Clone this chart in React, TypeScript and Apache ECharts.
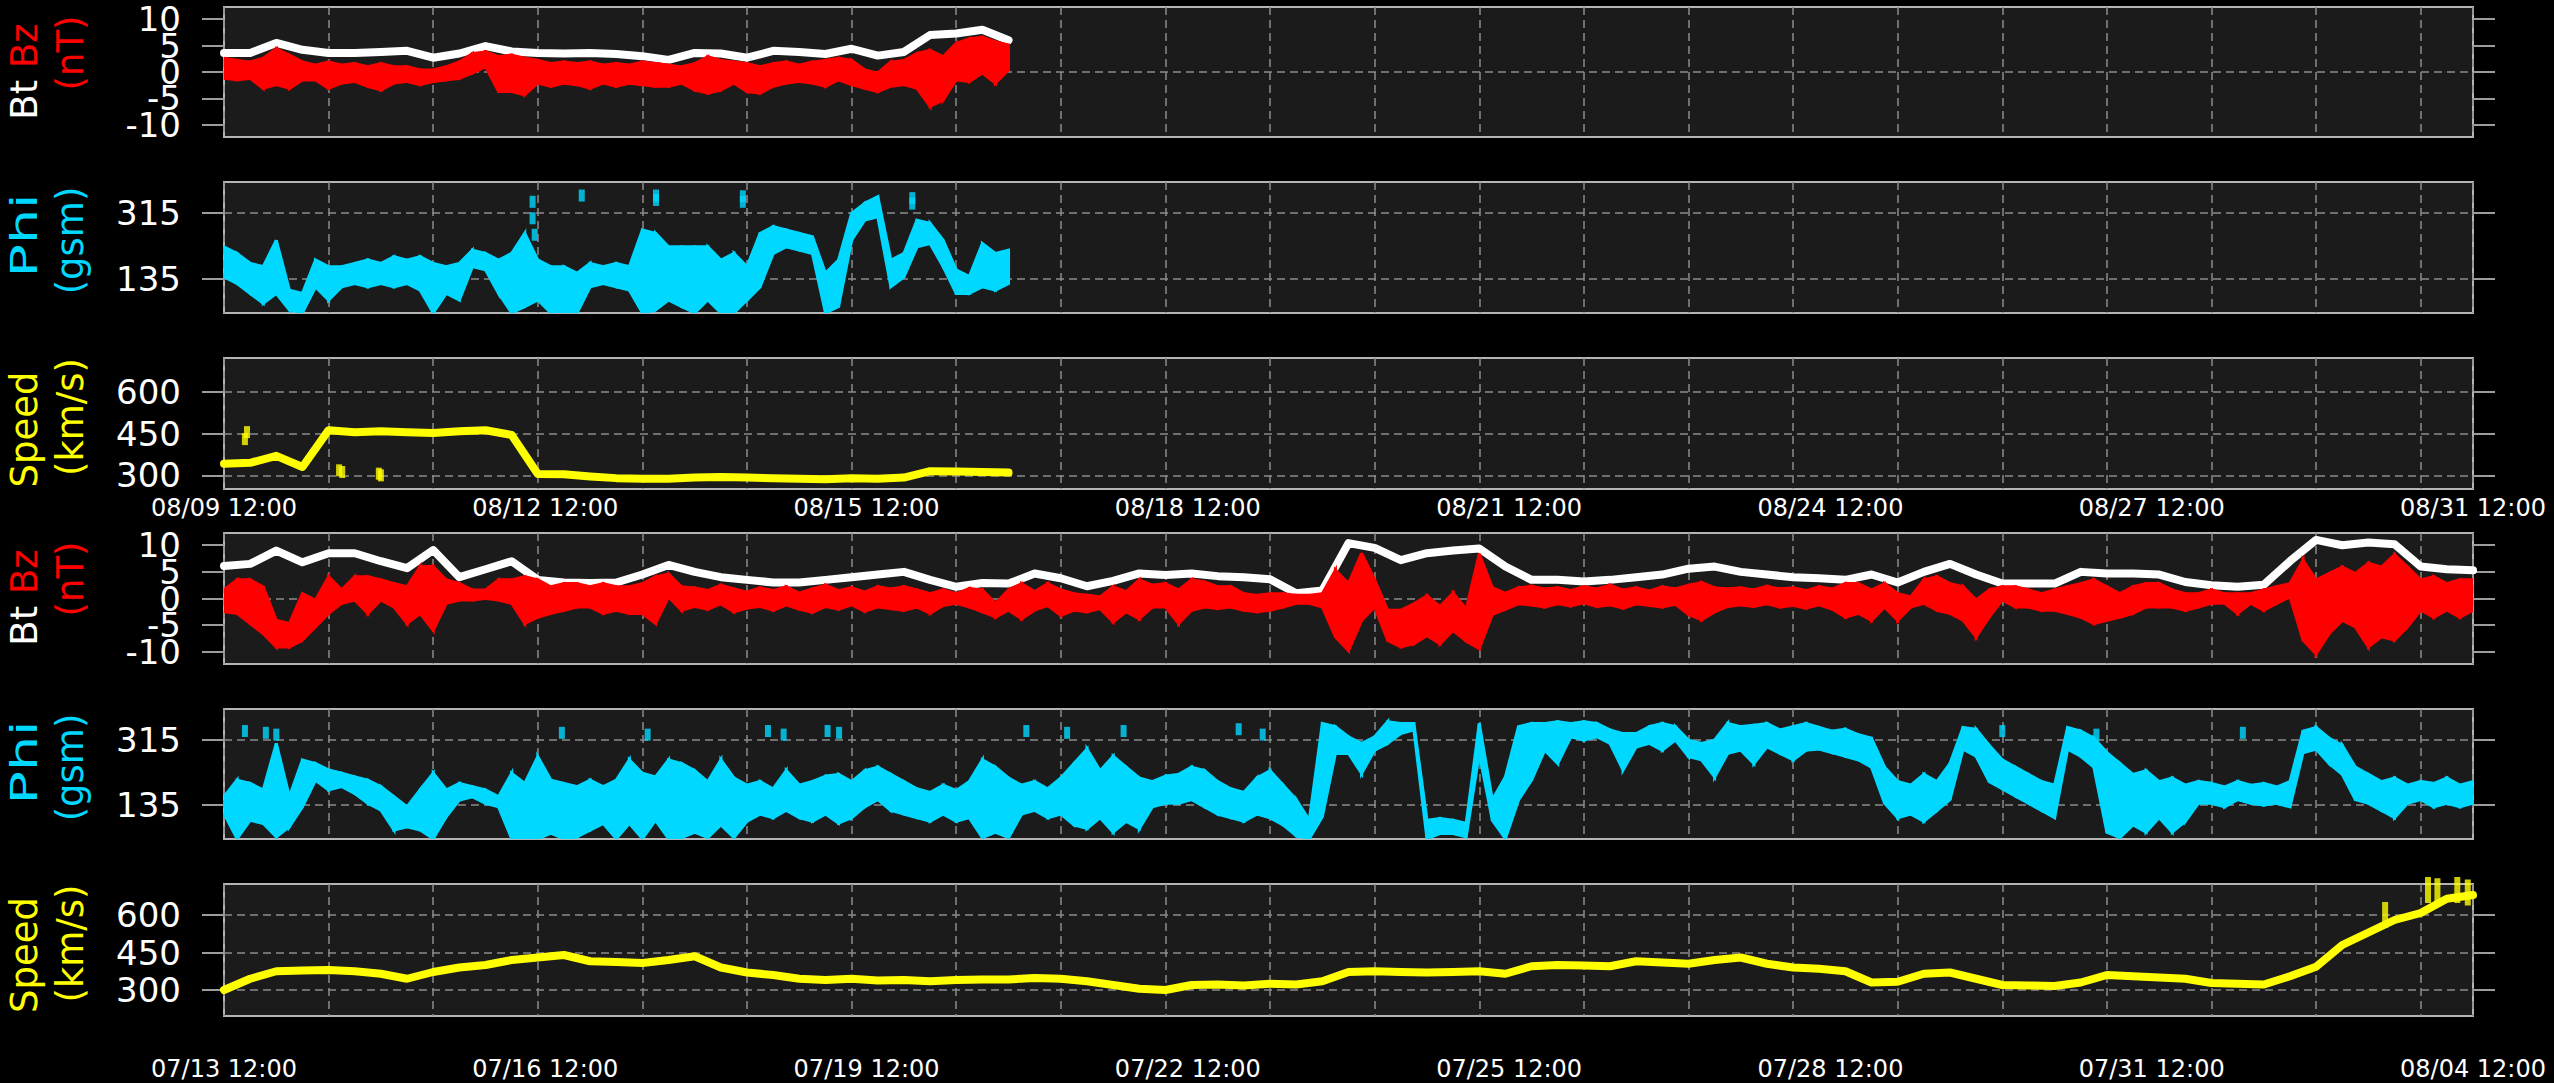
import React, { useEffect, useRef } from "react";
import * as echarts from "echarts";

// ---------------- DATA ----------------
const STEP = 0.25; // days between Bt / speed samples
const FINE = 0.125; // days between Bz / Phi samples
const X_MAX = 21.5; // days shown on each time axis

const topTickLabels = ["08/09 12:00", "08/12 12:00", "08/15 12:00", "08/18 12:00", "08/21 12:00", "08/24 12:00", "08/27 12:00", "08/31 12:00"];
const bottomTickLabels = ["07/13 12:00", "07/16 12:00", "07/19 12:00", "07/22 12:00", "07/25 12:00", "07/28 12:00", "07/31 12:00", "08/04 12:00"];

const magTicks = [-10, -5, 0, 5, 10];
const magGridLines = [0];
const phiTicks = [135, 315];
const speedTicks = [300, 450, 600];

// top group (starts 08/09 12:00)
const btTop = [3.6, 3.6, 5.5, 4.2, 3.6, 3.6, 3.8, 4.0, 2.7, 3.5, 4.9, 3.9, 3.6, 3.5, 3.6, 3.4, 3.0, 2.3, 3.6, 3.5, 2.7, 4.0, 3.8, 3.4, 4.4, 3.1, 3.8, 7.0, 7.3, 8.0, 6.0];
const bzHiTop = [2.6, 2.2, 1.9, 2.6, 4.4, 3.2, 1.9, 1.3, 1.9, 1.3, 1.6, 1.0, 1.6, 1.0, 1.0, 0.4, 0.4, 1.0, 1.9, 3.5, 3.8, 2.9, 3.2, 2.6, 2.2, 1.6, 1.9, 1.6, 1.9, 1.3, 1.6, 1.3, 1.9, 1.6, 1.3, 1.0, 1.6,
  2.9, 2.2, 1.9, 1.6, 1.0, 1.6, 1.9, 1.3, 1.9, 2.2, 2.6, 2.2, 0.4, -0.2, 1.9, 2.2, 3.5, 4.1, 2.9, 5.4, 6.3, 6.6, 5.7, 5.1];
const bzLoTop = [-1.2, -1.5, -1.2, -3.1, -2.4, -3.1, -1.5, -1.5, -3.1, -2.1, -1.8, -2.7, -3.4, -2.1, -1.8, -2.4, -1.8, -1.5, -1.2, -0.2, 1.0, -3.7, -3.7, -4.3, -2.1, -2.7, -2.1, -2.4, -3.1, -2.1, -2.7, -2.1, -2.4, -2.7, -2.7, -2.1, -3.4,
  -4.0, -3.4, -2.1, -3.7, -4.0, -2.7, -2.1, -1.8, -2.1, -2.7, -1.5, -2.4, -3.1, -3.7, -2.7, -2.4, -3.1, -6.5, -5.3, -1.5, -1.8, -0.2, -2.1, 0.4];
const phiHiTop = [222, 204, 177, 168, 240, 104, 95, 186, 168, 168, 177, 186, 177, 195, 186, 195, 177, 168, 177, 213, 204, 186, 204, 259, 186, 168, 168, 150, 177, 168, 177, 168, 268, 259, 222, 222, 222,
  222, 186, 204, 168, 259, 277, 268, 259, 250, 150, 186, 313, 341, 359, 186, 204, 295, 286, 240, 159, 141, 231, 204, 213];
const phiLoTop = [140, 122, 95, 68, 95, 50, 42, 113, 77, 113, 122, 113, 122, 113, 122, 104, 42, 95, 77, 168, 159, 95, 42, 59, 77, 42, 42, 42, 113, 122, 113, 104, 42, 50, 77, 59, 42,
  77, 42, 42, 77, 113, 204, 222, 213, 204, 42, 59, 240, 295, 304, 113, 140, 222, 231, 168, 95, 95, 113, 104, 122];
const speedTop = [342, 345, 370, 330, 462, 455, 458, 455, 452, 458, 462, 445, 305, 304, 296, 290, 288, 288, 292, 294, 292, 290, 288, 286, 290, 288, 292, 315, 314, 312, 310];
const phiDotsTop = [[2.95, 345], [2.95, 300], [2.97, 255], [3.42, 362], [4.13, 362], [4.13, 350], [4.96, 360], [4.96, 345], [6.58, 355], [6.58, 340]];
const speedDotsTop = [[0.2, 430], [0.22, 455], [1.1, 318], [1.13, 312], [1.48, 306], [1.5, 300]];

// bottom group (starts 07/13 12:00)
const btBottom = [6.1, 6.5, 9.0, 6.8, 8.5, 8.5, 7.0, 5.7, 9.1, 4.0, 5.5, 7.0, 3.5, 3.0, 2.9, 3.0, 4.5, 6.3, 5.0, 4.0, 3.5, 3.0, 3.0, 3.5, 4.0, 4.5, 5.0, 3.5, 2.2, 2.9, 2.8, 4.7, 3.8, 2.3, 3.3, 4.7, 4.4, 4.7, 4.2, 4.0, 3.6, 1.0, 1.5, 10.4, 9.5, 7.2, 8.5, 9.0, 9.4, 6.0, 3.5, 3.5, 3.2, 3.5, 4.0, 4.5, 5.6, 6.0, 5.0, 4.5, 4.0, 3.8, 3.5, 4.5, 3.0, 5.0, 6.5, 4.5, 2.8, 2.8, 2.8, 5.0, 4.7, 4.7, 4.5, 3.1, 2.5, 2.2, 2.6, 7.0, 11.0, 10.0, 10.5, 10.2, 6.0, 5.5, 5.3];
const bzHiBottom = [1.6, 3.5, 3.5, 2.2, -4.1, -4.7, 0.9, -0.3, 4.1, 1.6, 4.1, 4.1, 3.5, 2.8, 2.2, 6.0, 6.0, 3.5, 2.8, 1.6, 1.6, 3.5, 3.5, 4.1, 3.5, 2.2, 2.8, 2.8, 2.2, 2.8, 2.2, 2.2, 2.8, 4.1, 4.6,
  2.2, 2.0, 1.5, 2.5, 1.8, 1.2, 2.0, 1.5, 2.2, 1.0, 1.8, 2.5, 1.5, 2.0, 1.2, 2.2, 1.8,
  2.2, 1.6, 0.9, 1.6, 0.9, 1.9, 1.6, -0.9, 1.6, 2.8, 1.3, 2.8, 1.6, 0.9, 0.6, 0.3, 2.2, 1.3, 3.5, 2.5, 2.8, 1.6, 3.5, 3.1, 2.2, 2.2, 0.9, 0.6, 0.9, 0.9, 0.6, 0.6, 0.9, 5.3, 2.8, 8.5, 3.5, -2.2, -2.2,
  -1, 0.5, -1.5, 1, -2, 8.4, 2, 1, 2, 2.3, 1.8, 2.0, 1.5, 2.2, 1.8, 2.5, 1.6, 2.0, 1.4, 2.2, 1.8, 2.5, 3.0, 2.0, 1.8, 2.0, 1.6, 2.3, 1.8, 2.0, 1.5, 2.2, 1.8,
  2.8,
  2.8, 1.6, 2.8, 0.9, 0.3, 3.5, 4.1, 2.8, 2.2, -0.3, 1.6, 2.2, 2.2, 1.6, 0.9, 1.6, 2.2, 2.8, 3.5, 2.2, 0.9, 2.2, 2.8, 2.8, 1.6, 0.9, 0.9, 1.6, 0.9, 0.9, 0.9, 1.6, 2.2, 2.8, 7.2, 3.5, 4.7, 5.9, 4.7, 6.6, 5.9, 8.2, 5.9, 3.5, 4.1, 2.8, 3.5, 3.5];
const bzLoBottom = [-2.5, -2.8, -4.7, -6.6, -9.1, -9.1, -7.8, -5.3, -2.8, -0.9, -0.3, -2.8, -0.3, -1.6, -4.7, -2.8, -6.0, -0.9, -0.3, -0.3, 0, -0.3, -0.9, -4.7, -3.5, -2.8, -2.2, -1.6, -1.6, -2.8, -2.2, -2.8, -2.8, -4.7, 0.3,
  -2.2, -1.5, -2.0, -1.0, -2.5, -1.8, -1.5, -2.2, -1.2, -2.0, -2.6, -1.5, -2.0, -1.2, -2.4, -1.6, -1.9,
  -2.2, -1.6, -2.8, -1.3, -0.9, -1.6, -2.5, -3.5, -2.2, -3.8, -2.2, -1.3, -3.2, -2.2, -2.5, -1.9, -4.4, -2.5, -3.8, -1.6, -1.6, -4.7, -2.2, -1.6, -1.9, -1.6, -2.2, -2.5, -2.2, -1.6, -0.9, -0.9, -1.6, -7.2, -9.8, -4.1, -1.6, -7.9, -9.1,
  -8.5, -7, -8.5, -6, -8, -9.4, -3, -2, -1, -1.2, -1.6, -1.0, -1.4, -0.8, -1.5, -1.2, -1.8, -1.0, -1.3, -1.6, -1.1, -3.0, -4.0, -2.5, -1.5, -1.2, -1.5, -1.0, -1.6, -1.3, -1.8, -1.2, -2.0,
  -3.5,
  -2.8, -4.1, -1.6, -4.1, -1.6, -0.9, -2.2, -2.8, -4.1, -7.2, -3.5, -0.3, -1.6, -1.6, -2.2, -2.2, -2.8, -3.5, -4.7, -4.1, -3.5, -2.8, -1.6, -1.6, -1.6, -2.2, -1.6, -0.9, -0.9, -2.8, -0.9, -2.2, -0.9, 0.3, -7.8, -10.4, -6.6, -4.1, -5.3, -9.1, -7.2, -7.8, -5.3, -2.2, -3.5, -2.2, -3.5, -2.2];
const phiHiBottom = [158, 204, 195, 177, 306, 158, 260, 250, 232, 223, 213, 204, 186, 158, 130, 177, 223, 177, 195, 186, 177, 158, 223, 195, 269, 204, 195, 186, 204, 186, 204, 260, 223, 213, 260,
  250, 230, 200, 260, 210, 190, 200, 180, 230, 190, 200, 215, 220, 200, 230, 240, 220, 200, 180, 170, 190, 175, 200, 260, 240, 210, 190, 200, 180, 210, 250, 290, 230, 270, 240, 210, 200, 215, 220, 240, 230, 200, 180, 170, 210, 230, 190, 150,
  93, 361, 352, 324, 306, 324, 366, 361, 361, 93, 98, 93, 84, 361, 149, 213, 352, 361, 361, 366, 361, 366, 361, 343, 333, 333, 352, 361, 352, 315, 306, 315, 361, 352, 356, 361, 343, 352, 361,
  350, 340, 345, 330, 320, 240, 200, 190, 220, 200, 250, 350, 345, 300, 260, 240, 220, 200, 190, 350, 340, 320, 280, 250, 220, 230, 200, 210, 190, 200, 195, 185, 200, 190, 195, 185, 200, 340, 350, 320, 300, 240, 220, 200, 210, 190, 200, 195, 210, 190, 200];
const phiLoBottom = [112, 42, 93, 84, 47, 75, 130, 204, 177, 186, 167, 140, 121, 66, 75, 66, 42, 103, 149, 158, 140, 130, 42, 42, 42, 57, 42, 47, 66, 84, 42, 84, 42, 93, 42,
  45, 60, 45, 80, 45, 90, 110, 100, 120, 100, 90, 110, 85, 100, 130, 150, 120, 110, 100, 90, 110, 90, 100, 45, 60, 45, 110, 120, 100, 110, 80, 70, 100, 60, 90, 70, 130, 140, 140, 150, 130, 110, 100, 90, 110, 100, 80, 50,
  42, 103, 278, 278, 223, 287, 306, 333, 343, 42, 56, 56, 47, 278, 93, 42, 149, 204, 287, 250, 324, 315, 324, 306, 232, 296, 306, 287, 315, 269, 260, 213, 278, 287, 250, 296, 278, 260, 287,
  290, 280, 270, 260, 240, 140, 100, 110, 90, 120, 150, 290, 270, 200, 180, 160, 140, 120, 100, 290, 270, 240, 60, 45, 80, 60, 100, 60, 90, 140, 140, 130, 150, 140, 135, 140, 130, 280, 290, 250, 220, 150, 140, 120, 100, 140, 150, 130, 140, 130, 140];
const speedBottom = [300, 345, 375, 378, 380, 375, 365, 345, 372, 390, 400, 420, 430, 440, 415, 412, 408, 420, 435, 390, 370, 360, 345, 340, 345, 338, 340, 335, 340, 342, 342, 348, 345, 335, 320, 305, 300, 320, 322, 318, 325, 322, 335, 372, 375, 372, 370, 372, 375, 365, 395, 400, 398, 395, 415, 410, 405, 420, 430, 405, 390, 385, 375, 330, 333, 365, 370, 345, 320, 318, 316, 330, 360, 355, 350, 345, 328, 325, 322, 355, 393, 480, 530, 580, 608, 665, 680];
const phiDotsBottom = [[0.2, 340], [0.4, 335], [0.5, 330], [3.23, 335], [4.05, 330], [5.2, 340], [5.35, 330], [5.77, 340], [5.88, 335], [7.67, 340], [8.06, 335], [8.6, 340], [9.7, 345], [9.93, 330], [17.0, 340], [17.9, 330], [19.3, 335]];
const speedDotsBottom = [[20.66, 600], [21.07, 700], [21.16, 695], [21.35, 700], [21.45, 690]];

// ---------------- LAYOUT ----------------
const FONT = '"DejaVu Sans", "Liberation Sans", sans-serif';
const PLOT_LEFT = 224;
const PLOT_WIDTH = 2249;
const panels = [
  { top: 7, height: 130, min: -12.3, max: 12.3, ticks: magTicks, lines: magGridLines },
  { top: 182, height: 131, min: 41.5, max: 399, ticks: phiTicks, lines: phiTicks },
  { top: 358, height: 131, min: 251, max: 721, ticks: speedTicks, lines: speedTicks },
  { top: 533, height: 131, min: -12.3, max: 12.3, ticks: magTicks, lines: magGridLines },
  { top: 709, height: 130, min: 41, max: 401, ticks: phiTicks, lines: phiTicks },
  { top: 884, height: 132, min: 196, max: 724, ticks: speedTicks, lines: speedTicks },
];

const WHITE = "#ffffff";
const RED = "#ff0000";
const CYAN = "#00d8ff";
const YELLOW = "#ffff00";
const GRID_LINE = { color: "#8c8c8c", width: 1.5, type: [8, 5] as any };

const toXY = (arr: (number | null)[], step: number) => arr.map((v, i) => [i * step, v]);

function bandData(lo: (number | null)[], hi: (number | null)[], step: number) {
  const out: number[][] = [];
  for (let i = 0; i < Math.min(lo.length, hi.length) - 1; i++) {
    const a = lo[i], b = hi[i], c = lo[i + 1], d = hi[i + 1];
    if (a == null || b == null || c == null || d == null) continue;
    out.push([i * step, a, b, (i + 1) * step, c, d]);
  }
  return out;
}

function bandSeries(lo: any[], hi: any[], g: number, color: string, z: number) {
  return {
    type: "custom",
    xAxisIndex: g,
    yAxisIndex: g * 3,
    data: bandData(lo, hi, FINE),
    encode: { x: [0, 3], y: [1, 2, 4, 5] },
    clip: true,
    silent: true,
    z,
    renderItem: (_p: any, api: any) => {
      const a = api.coord([api.value(0), api.value(1)]);
      const b = api.coord([api.value(0), api.value(2)]);
      const c = api.coord([api.value(3), api.value(5)]);
      const d = api.coord([api.value(3), api.value(4)]);
      return {
        type: "polygon",
        shape: { points: [a, b, c, d] },
        style: { fill: color, stroke: color, lineWidth: 3 },
      };
    },
  };
}

function lineSeries(arr: any[], g: number, color: string, width: number, z: number) {
  return {
    type: "line",
    xAxisIndex: g,
    yAxisIndex: g * 3,
    data: toXY(arr, STEP),
    showSymbol: false,
    symbol: "none",
    connectNulls: false,
    silent: true,
    z,
    lineStyle: { color, width, join: "round", cap: "round" },
  };
}

function dotSeries(pts: number[][], g: number, color: string, z: number, size: number[] = [6, 12]) {
  return {
    type: "scatter",
    xAxisIndex: g,
    yAxisIndex: g * 3,
    data: pts,
    symbol: "rect",
    symbolSize: size,
    silent: true,
    z,
    itemStyle: { color },
  };
}

function labelAxis(g: number, labels: string[], margin: number) {
  const step = X_MAX / (labels.length - 1);
  const values = labels.map((_, i) => i * step);
  return {
    type: "value",
    gridIndex: g,
    min: 0,
    max: X_MAX,
    position: "bottom",
    axisLine: { show: false, onZero: false },
    axisTick: { show: false },
    splitLine: { show: false },
    axisLabel: {
      show: true,
      customValues: values,
      formatter: (v: number) => labels[Math.round(v / step)] ?? "",
      color: WHITE,
      fontSize: 24,
      fontFamily: FONT,
      margin,
      showMinLabel: true,
      showMaxLabel: true,
      hideOverlap: false,
    },
  };
}

function vText(x: number, y: number, text: string, fill: string, rich?: any, stretch = 1) {
  return {
    type: "text",
    x,
    y,
    rotation: Math.PI / 2,
    scaleX: stretch,
    silent: true,
    style: {
      text,
      fill,
      fontSize: 37,
      fontFamily: FONT,
      align: "center",
      verticalAlign: "middle",
      textAlign: "center",
      textVerticalAlign: "middle",
      rich,
    },
  };
}

const btRich = {
  w: { fill: WHITE, color: WHITE, fontSize: 37, fontFamily: FONT },
  r: { fill: RED, color: RED, fontSize: 37, fontFamily: FONT },
};

const tickLabelStyle = {
  color: WHITE, fontSize: 34, fontFamily: FONT, margin: 43,
  showMinLabel: true, showMaxLabel: true, hideOverlap: false,
};

function buildOption() {
  const grid = panels.map((p) => ({
    left: PLOT_LEFT,
    width: PLOT_WIDTH,
    top: p.top,
    height: p.height,
    show: true,
    backgroundColor: "#1b1b1b",
    borderColor: "#b4b4b4",
    borderWidth: 2,
    containLabel: false,
    outerBoundsMode: "none",
  }));

  const xAxis: any[] = panels.map((_, g) => ({
    type: "value",
    gridIndex: g,
    min: 0,
    max: X_MAX,
    interval: 1,
    position: "bottom",
    axisLine: { show: false, onZero: false },
    axisTick: { show: false },
    axisLabel: { show: false },
    splitLine: { show: true, lineStyle: GRID_LINE },
  }));
  xAxis.push(labelAxis(2, topTickLabels, 7));
  xAxis.push(labelAxis(5, bottomTickLabels, 41));

  const yAxis: any[] = [];
  panels.forEach((p, g) => {
    const tick = { show: true, customValues: p.ticks, length: 22, inside: false, lineStyle: { color: "#9c9c9c", width: 2 } };
    // labels split over two axes so that neighbouring (overlapping) labels are all kept
    const evenLabels = p.ticks.filter((_, i) => i % 2 === 0);
    const oddLabels = p.ticks.filter((_, i) => i % 2 === 1);
    yAxis.push({
      type: "value", gridIndex: g, min: p.min, max: p.max, position: "left",
      axisLine: { show: false, onZero: false },
      axisTick: tick,
      axisLabel: { show: true, customValues: evenLabels, ...tickLabelStyle },
      splitLine: { show: false },
    });
    yAxis.push({
      type: "value", gridIndex: g, min: p.min, max: p.max, position: "right",
      axisLine: { show: false, onZero: false },
      axisTick: tick,
      axisLabel: { show: false },
      splitLine: { show: false },
    });
    yAxis.push({
      type: "value", gridIndex: g, min: p.min, max: p.max, position: "left",
      axisLine: { show: false, onZero: false },
      axisTick: { show: false, customValues: p.lines },
      axisLabel: { show: oddLabels.length > 0, customValues: oddLabels.length ? oddLabels : [p.min], ...tickLabelStyle },
      splitLine: { show: true, lineStyle: GRID_LINE },
    });
  });

  const series: any[] = [
    lineSeries(btTop, 0, WHITE, 8, 2),
    bandSeries(bzLoTop, bzHiTop, 0, RED, 3),
    bandSeries(phiLoTop, phiHiTop, 1, CYAN, 3),
    dotSeries(phiDotsTop, 1, CYAN, 3),
    lineSeries(speedTop, 2, YELLOW, 8, 3),
    dotSeries(speedDotsTop, 2, YELLOW, 3),
    lineSeries(btBottom, 3, WHITE, 8, 2),
    bandSeries(bzLoBottom, bzHiBottom, 3, RED, 3),
    bandSeries(phiLoBottom, phiHiBottom, 4, CYAN, 3),
    dotSeries(phiDotsBottom, 4, CYAN, 3),
    lineSeries(speedBottom, 5, YELLOW, 8, 3),
    dotSeries(speedDotsBottom, 5, YELLOW, 3, [6, 26]),
  ];

  const graphic = [
    vText(24, 71.5, "{w|Bt }{r|Bz}", WHITE, btRich),
    vText(70, 53, "(nT)", RED),
    vText(24, 235.5, "Phi", CYAN, undefined, 1.5),
    vText(70, 240.5, "(gsm)", CYAN),
    vText(24, 429.5, "Speed", YELLOW),
    vText(70, 417, "(km/s)", YELLOW),
    vText(24, 597.5, "{w|Bt }{r|Bz}", WHITE, btRich),
    vText(70, 579, "(nT)", RED),
    vText(24, 762.5, "Phi", CYAN, undefined, 1.5),
    vText(70, 767.5, "(gsm)", CYAN),
    vText(24, 955, "Speed", YELLOW),
    vText(70, 943.5, "(km/s)", YELLOW),
  ];

  return {
    animation: false,
    backgroundColor: "#000000",
    textStyle: { fontFamily: FONT },
    grid,
    xAxis,
    yAxis,
    series,
    graphic,
  };
}

export default function App() {
  const ref = useRef<HTMLDivElement>(null);
  useEffect(() => {
    document.body.style.margin = "0";
    document.body.style.background = "#000";
    const chart = echarts.init(ref.current as HTMLDivElement, null, { renderer: "svg" });
    chart.setOption(buildOption() as any);
    return () => chart.dispose();
  }, []);
  return <div ref={ref} style={{ position: "fixed", left: 0, top: 0, width: 2554, height: 1083, background: "#000" }} />;
}
